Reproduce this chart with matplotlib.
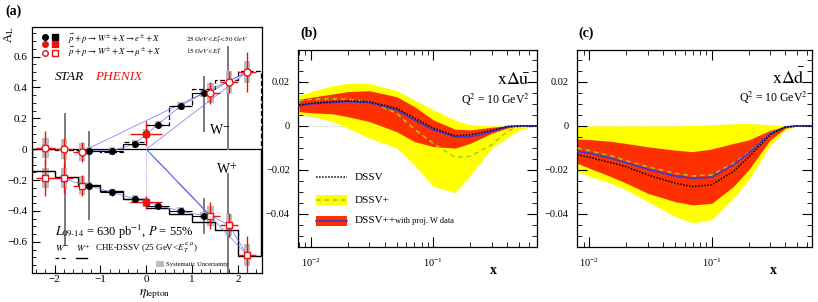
import numpy as np
import matplotlib
matplotlib.use('Agg')
import matplotlib.pyplot as plt
from matplotlib.patches import Rectangle
from matplotlib.ticker import MultipleLocator, FixedLocator, FuncFormatter, LogLocator, NullFormatter

plt.rcParams['font.family'] = ['Liberation Serif', 'DejaVu Serif']
plt.rcParams['mathtext.fontset'] = 'stix'

# ---------------- panel (a): W asymmetries ----------------
ph_eta = [-2.2, -1.8, -1.4, 0.0, 1.4, 1.8, 2.2]
ph_xerr = [0.2, 0.2, 0.2, 0.35, 0.2, 0.2, 0.2]
ph_wm = [0.005, 0.0, -0.017, 0.10, 0.366, 0.437, 0.50]
ph_wm_err = [0.11, 0.07, 0.065, 0.08, 0.07, 0.07, 0.13]
ph_wp = [-0.185, -0.185, -0.235, -0.345, -0.43, -0.49, -0.685]
ph_wp_err = [0.12, 0.10, 0.07, 0.04, 0.09, 0.08, 0.12]
ph_sys = [0.065, 0.065, 0.06, 0.03, 0.065, 0.07, 0.07]

st_eta = [-1.25, -0.75, -0.25, 0.25, 0.75, 1.25]
st_wm = [-0.01, -0.01, 0.035, 0.16, 0.278, 0.366]
st_wp = [-0.235, -0.28, -0.322, -0.365, -0.398, -0.43]
st_err = 0.02
st_sys = 0.025

# long grey bars (existing data)
gl_x = [-1.78, -1.25, 1.27, 1.27, 1.78, 1.78]
gl_lo = [-0.62, -0.45, 0.12, -0.54, 0.0, -0.80]
gl_hi = [0.23, 0.11, 0.47, -0.32, 0.66, -0.16]

# CHE-DSSV histograms
eta_edges = [-2.5, -2.0, -1.5, -1.0, -0.5, 0.0, 0.5, 1.0, 1.5, 2.0, 2.5]
th_wm = [0.0, -0.008, -0.012, -0.015, 0.045, 0.16, 0.28, 0.39, 0.45, 0.505]
th_wp = [-0.14, -0.18, -0.23, -0.27, -0.32, -0.38, -0.42, -0.47, -0.525, -0.69]

# thin blue DSSV++ lines
bl_wm_x = [-1.4, -1.25, -0.75, -0.25, 0.25, 0.75, 1.25, 1.4, 1.8, 2.2, -1.3]
bl_wm_y = [-0.015, -0.01, -0.01, 0.035, 0.16, 0.28, 0.365, 0.37, 0.44, 0.5, 0.0]
bl_wp_x = [-1.8, -1.4, -1.25, -0.75, -0.25, 0.0, 0.25, 0.75, 1.25, 1.4, 1.8, 2.2]
bl_wp_y = [-0.19, -0.23, -0.235, -0.28, -0.32, -0.34, -0.365, -0.4, -0.43, -0.43, -0.49, -0.685]
bl_fan_x = [2.2, 0.0, 1.4, 0.0, 2.2]
bl_fan_y = [0.5, 0.0, -0.43, 0.0, -0.685]

# ---------------- panels (b), (c): sea quark helicities ----------------
x_pts = [0.008, 0.01, 0.015, 0.02, 0.03, 0.05, 0.07, 0.1, 0.15, 0.2, 0.3, 0.4, 0.5, 0.7]

ub_yel_hi = [0.0141, 0.0156, 0.0182, 0.0194, 0.0194, 0.0160, 0.0118, 0.0073, 0.0027, 0.0005, 0.0, 0.0, 0.0, 0.0]
ub_yel_lo = [0.0050, 0.0045, 0.0020, -0.0010, -0.0056, -0.0100, -0.0177, -0.0276, -0.0303, -0.0225, -0.0100, -0.0055, -0.0018, 0.0]
ub_red_hi = [0.0121, 0.0130, 0.0145, 0.0156, 0.0160, 0.0133, 0.0088, 0.0027, -0.0015, -0.0018, -0.0006, 0.0, 0.0, 0.0]
ub_red_lo = [0.0065, 0.0060, 0.0055, 0.0042, 0.0020, -0.0026, -0.0071, -0.0094, -0.0101, -0.0079, -0.0033, -0.0010, 0.0, 0.0]
ub_dssv = [0.0095, 0.0103, 0.0110, 0.0114, 0.0110, 0.0080, 0.0035, -0.0010, -0.0045, -0.0040, -0.0020, -0.0003, 0.0, 0.0]
ub_plus = [0.0115, 0.0121, 0.0124, 0.0121, 0.0110, 0.0058, -0.0015, -0.0080, -0.0142, -0.0138, -0.0085, -0.0025, -0.0003, 0.0]
ub_pp = [0.0091, 0.0100, 0.0106, 0.0110, 0.0106, 0.0073, 0.0027, -0.0018, -0.0049, -0.0049, -0.0026, -0.0003, 0.0, 0.0]

db_yel_hi = [0.0, 0.0, 0.0, 0.0, 0.0, 0.0, 0.0002, 0.0005, 0.0010, 0.0012, 0.0005, 0.0, 0.0, 0.0]
db_yel_lo = [-0.0208, -0.0230, -0.0260, -0.0290, -0.0344, -0.0412, -0.0440, -0.0427, -0.0329, -0.0245, -0.0090, -0.0020, 0.0, 0.0]
db_red_hi = [-0.0060, -0.0062, -0.0070, -0.0080, -0.0095, -0.0110, -0.0117, -0.0105, -0.0080, -0.0064, -0.0020, -0.0003, 0.0, 0.0]
db_red_lo = [-0.0170, -0.0192, -0.0230, -0.0260, -0.0306, -0.0344, -0.0359, -0.0352, -0.0276, -0.0200, -0.0064, -0.0010, 0.0, 0.0]
db_dssv = [-0.0132, -0.0142, -0.0167, -0.0185, -0.0223, -0.0260, -0.0276, -0.0268, -0.0208, -0.0142, -0.0040, -0.0005, 0.0, 0.0]
db_plus = [-0.0101, -0.0112, -0.0136, -0.0158, -0.0185, -0.0215, -0.0227, -0.0223, -0.0170, -0.0121, -0.0033, -0.0005, 0.0, 0.0]
db_pp = [-0.0117, -0.0124, -0.0147, -0.0167, -0.0197, -0.0227, -0.0238, -0.0233, -0.0177, -0.0124, -0.0035, -0.0005, 0.0, 0.0]

YELLOW = '#ffff00'
RED = '#ff3000'
GREEN = '#9ccc2c'
BLUE = '#3a3acf'
LBLUE = '#7272f0'
GREY = '#7a7a7a'
BOX = '#bdbdbd'
PRED = '#f01010'


def minus_fmt(fmt):
    def f(v, pos):
        if abs(v) < 1e-12:
            return '0'
        s = fmt.format(abs(v))
        return '\u2212' + s if v < 0 else s
    return FuncFormatter(f)


fig = plt.figure(figsize=(8.18, 3.02), dpi=100)

# ================= (a) =================
ax = fig.add_axes([0.0388, 0.0970, 0.2812, 0.8126])
ax.set_xlim(-2.5, 2.52)
ax.set_ylim(-0.80, 0.79)
ax.axhline(0, color='black', lw=0.9, zorder=1)

for x, lo, hi in zip(gl_x, gl_lo, gl_hi):
    ax.plot([x, x], [lo, hi], color=GREY, lw=1.4, zorder=2)

# systematic boxes
for x, y1, y2, s in zip(ph_eta, ph_wm, ph_wp, ph_sys):
    for y in (y1, y2):
        ax.add_patch(Rectangle((x - 0.07, y - s), 0.14, 2 * s, facecolor=BOX,
                               edgecolor='none', hatch='....', zorder=2))
for x, y1, y2 in zip(st_eta, st_wm, st_wp):
    for y in (y1, y2):
        ax.add_patch(Rectangle((x - 0.07, y - st_sys), 0.14, 2 * st_sys, facecolor=BOX,
                               edgecolor='none', zorder=2))

ax.stairs(th_wm, eta_edges, color='black', lw=0.9, ls=(0, (4, 2)), zorder=3)
ax.stairs(th_wp, eta_edges, color='black', lw=1.0, zorder=3)

ax.plot(bl_wm_x, bl_wm_y, color=LBLUE, lw=0.5, zorder=3)
ax.plot(bl_wp_x, bl_wp_y, color=LBLUE, lw=0.5, zorder=3)
ax.plot(bl_fan_x, bl_fan_y, color=LBLUE, lw=0.5, zorder=3)
ax.plot([0, 0], [0, ph_wp[3]], color=LBLUE, lw=0.6, ls=':', zorder=3)

# STAR points
for ys in (st_wm, st_wp):
    ax.errorbar(st_eta, ys, xerr=0.25, yerr=st_err, fmt='none', ecolor='black',
                elinewidth=0.8, zorder=4)
ax.plot(st_eta, st_wm, 'o', color='black', ms=4.0, zorder=5)
ax.plot(st_eta, st_wp, 'o', color='black', ms=4.0, zorder=5)

# PHENIX points
ax.errorbar(ph_eta, ph_wm, xerr=ph_xerr, yerr=ph_wm_err, fmt='none', ecolor=PRED,
            elinewidth=1.0, zorder=4)
ax.errorbar(ph_eta, ph_wp, xerr=ph_xerr, yerr=ph_wp_err, fmt='none', ecolor=PRED,
            elinewidth=1.0, zorder=4)
fwd = [i for i, e in enumerate(ph_eta) if e != 0.0]
cen = [i for i, e in enumerate(ph_eta) if e == 0.0]
ax.plot([ph_eta[i] for i in fwd], [ph_wm[i] for i in fwd], 'o', mfc='white', mec=PRED,
        mew=1.0, ms=5, zorder=6)
ax.plot([ph_eta[i] for i in fwd], [ph_wp[i] for i in fwd], 's', mfc='white', mec=PRED,
        mew=1.0, ms=4.6, zorder=6)
ax.plot([ph_eta[i] for i in cen], [ph_wm[i] for i in cen], 'o', color=PRED, ms=5, zorder=6)
ax.plot([ph_eta[i] for i in cen], [ph_wp[i] for i in cen], 's', color=PRED, ms=4.6, zorder=6)

ax.xaxis.set_major_locator(MultipleLocator(1))
ax.xaxis.set_minor_locator(MultipleLocator(0.2))
ax.yaxis.set_major_locator(FixedLocator([-0.6, -0.4, -0.2, 0, 0.2, 0.4, 0.6]))
ax.yaxis.set_minor_locator(MultipleLocator(0.05))
ax.xaxis.set_major_formatter(minus_fmt('{:.0f}'))
ax.yaxis.set_major_formatter(minus_fmt('{:.1f}'))
ax.tick_params(which='both', direction='in', labelsize=8)
ax.tick_params(which='major', length=6, width=0.8)
ax.tick_params(which='minor', length=3, width=0.6)
ax.tick_params(axis='y', pad=3)
ax.tick_params(axis='x', pad=2)
for sp in ax.spines.values():
    sp.set_linewidth(0.9)

T = ax.transAxes
# legend block at the top
ax.plot([0.058], [0.962], 'o', color='black', ms=4, transform=T, clip_on=False)
ax.plot([0.101], [0.962], 's', color='black', ms=4, transform=T, clip_on=False)
ax.plot([0.058], [0.932], 'o', color=PRED, ms=4, transform=T, clip_on=False)
ax.plot([0.101], [0.932], 's', color=PRED, ms=4, transform=T, clip_on=False)
ax.plot([0.058], [0.896], 'o', mfc='white', mec=PRED, mew=1, ms=4, transform=T, clip_on=False)
ax.plot([0.101], [0.896], 's', mfc='white', mec=PRED, mew=1, ms=4, transform=T, clip_on=False)
ax.text(0.159, 0.954, r'$\vec{p}+p\rightarrow W^{\pm}+X\rightarrow e^{\pm}+X$', transform=T,
        fontsize=6.4, va='center')
ax.text(0.159, 0.898, r'$\vec{p}+p\rightarrow W^{\pm}+X\rightarrow \mu^{\pm}+X$', transform=T,
        fontsize=6.4, va='center')
ax.text(0.672, 0.951, r'$25\ GeV\!<\!E_T^e\!<\!50\ GeV$', transform=T, fontsize=5, va='center')
ax.text(0.672, 0.900, r'$15\ GeV\!<\!E_T^{\mu}$', transform=T, fontsize=5, va='center')
ax.text(0.101, 0.797, 'STAR', transform=T, fontsize=9.5, style='italic', va='center')
ax.text(0.276, 0.797, 'PHENIX', transform=T, fontsize=9.5, style='italic', color=PRED, va='center')
ax.text(0.819, 0.581, r'W$^{-}$', transform=T, fontsize=10, ha='center', va='center')
ax.text(0.849, 0.419, r'W$^{+}$', transform=T, fontsize=10, ha='center', va='center')

ax.text(0.101, 0.167, r'$L_{09\text{-}14}$ = 630 pb$^{-1}$, $P$ = 55%', transform=T,
        fontsize=9, va='center')
ax.text(0.101, 0.099, r'$W^{-}$', transform=T, fontsize=6.5, va='center')
ax.text(0.193, 0.099, r'$W^{+}$', transform=T, fontsize=6.5, va='center')
ax.text(0.276, 0.099, r'CHE-DSSV (25 GeV<$E_T^{e,\mu}$)', transform=T, fontsize=6.5, va='center')
ax.plot([0.101, 0.152], [0.059, 0.059], color='black', lw=0.9, ls=(0, (3, 2)), transform=T)
ax.plot([0.193, 0.242], [0.059, 0.059], color='black', lw=1.0, transform=T)
ax.add_patch(Rectangle((0.541, 0.023), 0.032, 0.024, transform=T, facecolor=BOX,
                       edgecolor='none', hatch='....'))
ax.text(0.582, 0.035, 'Systematic Uncertainty', transform=T, fontsize=4.8, va='center')

fig.text(9 / 818, 1 - 27 / 302, r'A$_{\rm L}$', rotation=90, fontsize=9, ha='center', va='top')
fig.text(155 / 818, 1 - 294 / 302, r'$\eta_{\rm lepton}$', fontsize=9.5, ha='center', va='center')
fig.text(5 / 818, 1 - 11 / 302, '(a)', fontsize=10, fontweight='bold', va='center')


# ================= (b), (c) =================
def pdf_panel(rect, xmax, yel_hi, yel_lo, red_hi, red_lo, dssv, plus, pp, name, name_y, q_x):
    a = fig.add_axes(rect)
    a.set_xscale('log')
    a.set_xlim(0.0079, xmax)
    a.set_ylim(-0.0549, 0.0345)
    a.axhline(0, color='#b0b0b0', lw=0.6, ls=':', zorder=0)
    a.fill_between(x_pts, yel_lo, yel_hi, color=YELLOW, lw=0, zorder=1)
    a.fill_between(x_pts, red_lo, red_hi, color=RED, lw=0, zorder=2)
    a.plot(x_pts, plus, color=GREEN, lw=1.1, ls=(0, (3, 2.5)), zorder=3)
    a.plot(x_pts, pp, color=BLUE, lw=1.2, zorder=4)
    a.plot(x_pts, dssv, color='black', lw=1.1, ls=(0, (1, 1)), zorder=5)
    a.yaxis.set_major_locator(FixedLocator([-0.04, -0.02, 0.0, 0.02]))
    a.yaxis.set_minor_locator(MultipleLocator(0.005))
    a.yaxis.set_major_formatter(minus_fmt('{:.2f}'))
    a.xaxis.set_major_locator(LogLocator(base=10, numticks=10))
    a.xaxis.set_minor_locator(LogLocator(base=10, subs=np.arange(2, 10), numticks=10))
    a.xaxis.set_minor_formatter(NullFormatter())
    a.tick_params(which='both', direction='in', top=True, right=True, labelsize=7.5)
    a.tick_params(which='major', length=7, width=0.8)
    a.tick_params(which='minor', length=3.5, width=0.6)
    a.tick_params(axis='y', pad=6)
    a.tick_params(axis='x', pad=7)
    for sp in a.spines.values():
        sp.set_linewidth(0.9)
    a.text(0.972, name_y, name, transform=a.transAxes, fontsize=13, ha='right', va='center')
    a.text(q_x, name_y - 0.105, r'Q$^{2}$ = 10 GeV$^{2}$', transform=a.transAxes,
           fontsize=8.5, ha='right', va='center')
    return a


axb = pdf_panel([0.3647, 0.1831, 0.2914, 0.6513], 0.697, ub_yel_hi, ub_yel_lo, ub_red_hi,
                ub_red_lo, ub_dssv, ub_plus, ub_pp, r'$\mathrm{x\Delta\bar{u}}$', 0.852, 0.972)
axc = pdf_panel([0.7050, 0.1831, 0.2873, 0.6513], 0.656, db_yel_hi, db_yel_lo, db_red_hi,
                db_red_lo, db_dssv, db_plus, db_pp, r'$\mathrm{x\Delta\bar{d}}$', 0.86, 0.984)

# legend in (b)
Tb = axb.transAxes
axb.plot([0.074, 0.206], [0.353, 0.353], color='black', lw=1.1, ls=(0, (1, 1)), transform=Tb)
axb.text(0.238, 0.353, 'DSSV', transform=Tb, fontsize=8, va='center')
axb.add_patch(Rectangle((0.074, 0.213), 0.132, 0.048, transform=Tb, facecolor=YELLOW, edgecolor='none'))
axb.plot([0.074, 0.206], [0.237, 0.237], color=GREEN, lw=1.1, ls=(0, (3, 2.5)), transform=Tb)
axb.text(0.238, 0.237, 'DSSV+', transform=Tb, fontsize=8, va='center')
axb.add_patch(Rectangle((0.074, 0.105), 0.132, 0.052, transform=Tb, facecolor=RED, edgecolor='none'))
axb.plot([0.074, 0.206], [0.131, 0.131], color=BLUE, lw=1.2, transform=Tb)
axb.text(0.238, 0.131, 'DSSV++', transform=Tb, fontsize=8, va='center')
axb.text(0.405, 0.131, 'with proj. W data', transform=Tb, fontsize=6, va='center')

for a, xl in ((axb, 493 / 818), (axc, 773 / 818)):
    fig.text(xl, 1 - 270 / 302, 'x', fontsize=10, fontweight='bold', ha='center', va='center')

fig.text(300 / 818, 1 - 33 / 302, '(b)', fontsize=10, fontweight='bold', va='center')
fig.text(578 / 818, 1 - 33 / 302, '(c)', fontsize=10, fontweight='bold', va='center')

fig.savefig('out.png', dpi=100)
